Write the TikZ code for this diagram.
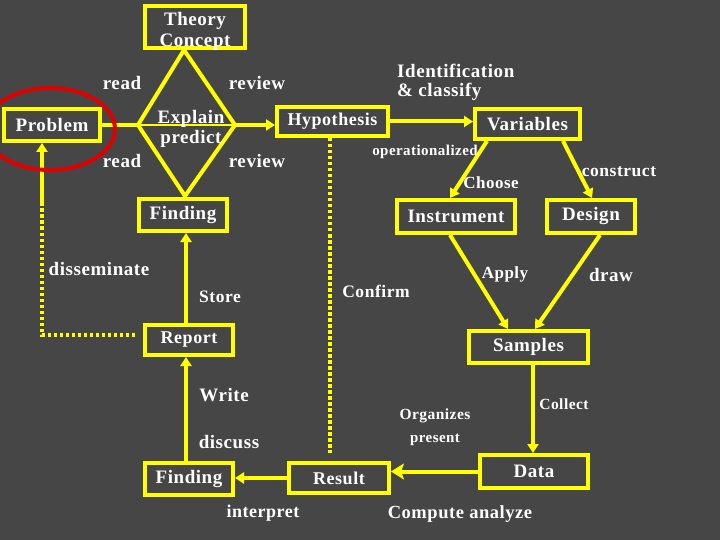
\documentclass[tikz,border=0pt]{standalone}
\usepackage{fontspec}
\setmainfont[LetterSpace=3]{Liberation Serif}
\usetikzlibrary{arrows.meta,calc}
\definecolor{bg}{RGB}{70,70,70}
\definecolor{ylw}{RGB}{255,255,0}
\definecolor{redc}{RGB}{225,0,0}
\newcommand{\fsz}[1]{\fontsize{#1}{#1}\selectfont\bfseries}
\tikzset{
  box/.style={draw=ylw, line width=4pt, inner sep=0pt, text=white, font=\fsz{19}},
  lbl/.style={inner sep=0pt, text=white, font=\fsz{#1}},
  lbl/.default=19,
  conn/.style={draw=ylw, line width=4pt},
  arr/.style={conn, -{Triangle[length=9pt,width=11pt]}},
  bigarr/.style={conn, -{Stealth[length=13pt,width=16pt,inset=3pt]}},
  dots/.style={draw=ylw, line width=4pt, dash pattern=on 3.5pt off 2.5pt}
}
\begin{document}
\begin{tikzpicture}[x=1pt,y=-1pt]
\fill[bg] (0,0) rectangle (720,540);
\useasboundingbox (0,0) rectangle (720,540);

% boxes
\node[box, minimum width=100pt, minimum height=42pt] (theory) at (195,27) {};
\node[lbl, align=center] (theorytxt) at (195,31.5) {Theory\\[1.5pt]Concept};
\node[box, minimum width=96pt, minimum height=32pt] (problem) at (52,125) {Problem};
\node[box, minimum width=111pt, minimum height=29pt, font=\fsz{18}] (hyp) at (332.5,121.5) {Hypothesis};
\node[box, minimum width=105pt, minimum height=30pt] (var) at (527.5,124) {Variables};
\node[box, minimum width=118pt, minimum height=33pt] (instr) at (456,216.5) {Instrument};
\node[box, minimum width=88pt, minimum height=33pt] (design) at (591,216.5) {Design};
\node[box, minimum width=119pt, minimum height=32pt] (samples) at (528.5,347) {Samples};
\node[box, minimum width=108pt, minimum height=33pt] (data) at (534,471.5) {Data};
\node[box, minimum width=100pt, minimum height=30pt, font=\fsz{18}] (result) at (339,478) {Result};
\node[box, minimum width=88pt, minimum height=32pt] (find2) at (189,479) {Finding};
\node[box, minimum width=88pt, minimum height=30pt, font=\fsz{18}] (report) at (189,340) {Report};
\node[box, minimum width=88pt, minimum height=32pt] (find1) at (183,215) {Finding};

% diamond
\coordinate (dT) at (184,50);
\coordinate (dL) at (138,125);
\coordinate (dR) at (235,125);
\coordinate (dB) at (185,196);
\draw[conn, line join=miter] (dT) -- (dR) -- (dB) -- (dL) -- cycle;
\draw[ylw, line width=1.5pt] (dL) -- (dR);
\node[lbl, align=center] (explain) at (191,129) {Explain\\[1pt]predict};

% connectors
\draw[conn] (problem.east) -- (dL);
\draw[arr] (dR) -- (hyp.west |- dR);
\draw[arr] (hyp.east) -- (var.west |- hyp.east);
\coordinate (hd) at (330,453);
\draw[dots] (hyp.south -| hd) -- (hd);
\draw[arr] ($(var.south)+(-40.5,0)$) -- ($(instr.north)+(-6,0)$);
\draw[arr] ($(var.south)+(35.5,0)$) -- ($(design.north)+(1,0)$);
\draw[arr] ($(instr.south)+(-6,0)$) -- ($(samples.north)+(-20.5,0)$);
\draw[arr] ($(design.south)+(9,0)$) -- ($(samples.north)+(6.5,0)$);
\draw[arr] ($(samples.south)+(4.5,0)$) -- ($(data.north)+(-1,0)$);
\draw[bigarr] (data.west) -- (result.east |- data.west);
\draw[arr] (result.west) -- (find2.east |- result.west);
\draw[arr] ($(find2.north)+(-3,0)$) -- ($(report.south)+(-3,0)$);
\draw[arr] ($(report.north)+(-3,0)$) -- ($(find1.south)+(3,0)$);
\coordinate (c1) at (42,335);
\coordinate (c2) at (42,203);
\draw[dots] ($(report.west |- c1)+(-8,0)$) -- (c1) -- (c2);
\draw[arr] (c2) -- (problem.south -| c2);

% red ellipse
\draw[redc, line width=4pt] (50,129) ellipse [x radius=65, y radius=41];

% labels
\node[lbl] (read1) at (122,83) {read};
\node[lbl] (read2) at (122,161) {read};
\node[lbl] (rev1) at (257,83) {review};
\node[lbl] (rev2) at (257,161) {review};
\node[lbl, anchor=west, align=left] (ident) at (397,82) {Identification\\[0pt]\& classify};
\node[lbl=15] (oper) at (425,152) {operationalized};
\node[lbl=17] (choose) at (491,183) {Choose};
\node[lbl=17.5] (constr) at (619,172) {construct};
\node[lbl] (dissem) at (99,269) {disseminate};
\node[lbl=17.5] (store) at (220,297) {Store};
\node[lbl=17.5] (confirm) at (376,291) {Confirm};
\node[lbl=17] (apply) at (505,274) {Apply};
\node[lbl] (draw) at (611,275) {draw};
\node[lbl] (write) at (224,395) {Write};
\node[lbl] (discuss) at (229,442) {discuss};
\node[lbl=18] (interp) at (263,513) {interpret};
\node[lbl=15.5] (organ) at (435,416) {Organizes};
\node[lbl=15] (present) at (435,440) {present};
\node[lbl=15.5] (collect) at (564,404) {Collect};
\node[lbl=18.5] (compute) at (460,514) {Compute analyze};
\end{tikzpicture}
\end{document}
